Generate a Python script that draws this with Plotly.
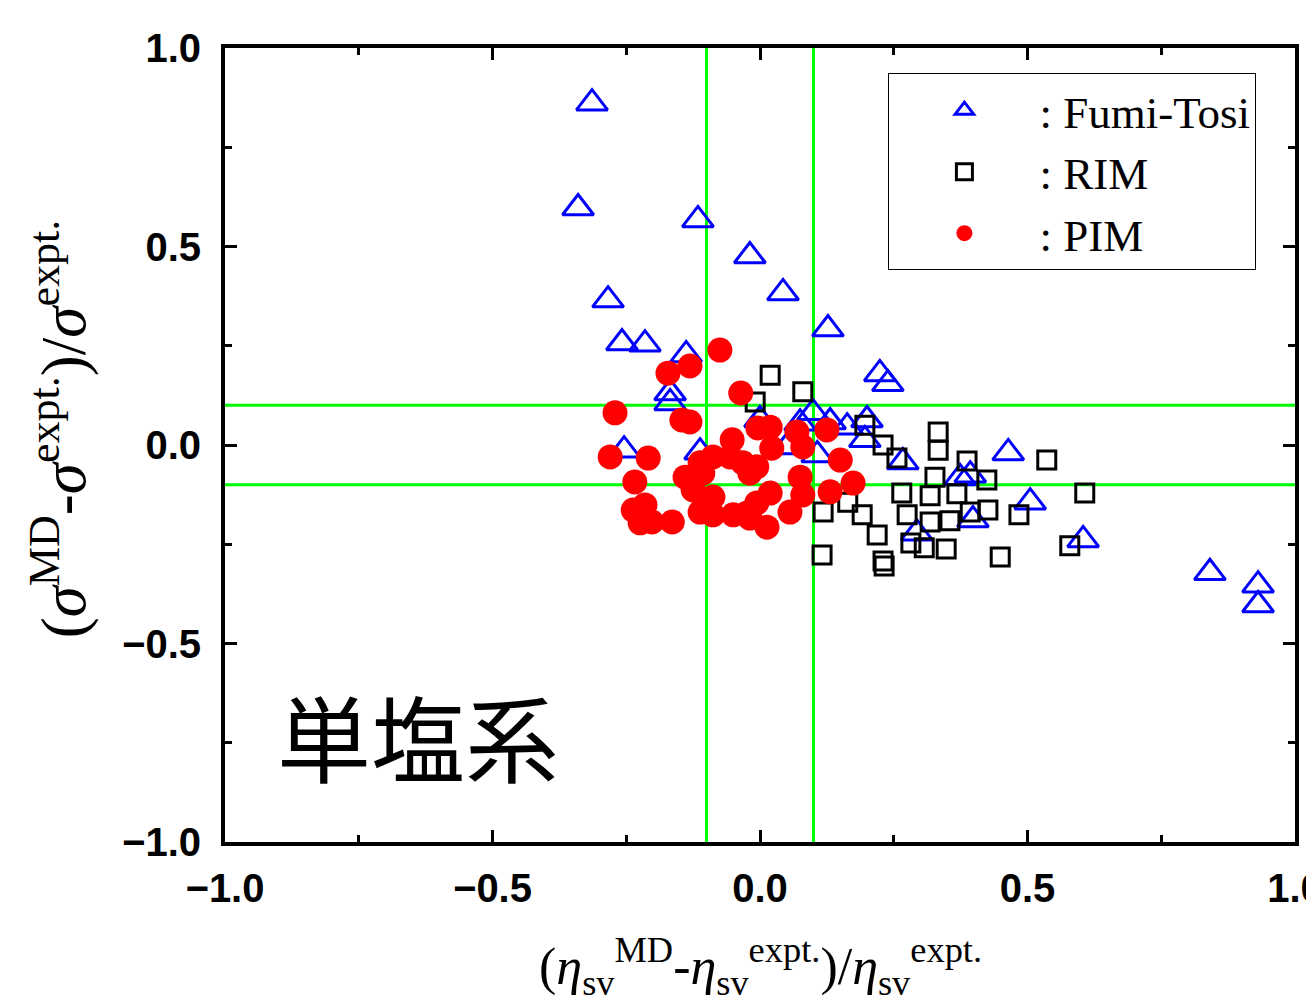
import plotly.graph_objects as go

# Fumi-Tosi (triangles)
ft_x = [-0.314, -0.340, -0.116, -0.019, 0.043, -0.284, -0.258, -0.215, -0.138, 0.127,
        0.224, 0.239, -0.168, -0.168, -0.254, -0.112, 0.000, 0.075, 0.099, 0.131,
        0.163, 0.200, 0.196, 0.050, 0.107, 0.267, 0.374, 0.393, 0.464, 0.505,
        0.398, 0.293, 0.604, 0.841, 0.931, 0.931]
ft_y = [0.861, 0.597, 0.567, 0.476, 0.383, 0.365, 0.257, 0.254, 0.227, 0.292,
        0.179, 0.154, 0.131, 0.106, -0.013, -0.018, 0.063, 0.055, 0.081, 0.058,
        0.045, 0.063, 0.013, -0.005, -0.025, -0.043, -0.083, -0.076, -0.020, -0.144,
        -0.189, -0.222, -0.239, -0.322, -0.353, -0.403]

# RIM (open squares)
rim_x = [0.019, 0.080, -0.009, 0.196, 0.230, 0.256, 0.333, 0.333, 0.387, 0.424,
         0.327, 0.265, 0.318, 0.368, 0.164, 0.118, 0.191, 0.275, 0.318, 0.355,
         0.393, 0.426, 0.484, 0.536, 0.607, 0.579, 0.219, 0.282, 0.307, 0.348,
         0.449, 0.116, 0.230, 0.232]
rim_y = [0.176, 0.134, 0.108, 0.050, 0.000, -0.033, 0.033, -0.013, -0.040, -0.088,
         -0.081, -0.121, -0.128, -0.123, -0.144, -0.169, -0.176, -0.176, -0.194, -0.191,
         -0.169, -0.164, -0.176, -0.038, -0.121, -0.254, -0.227, -0.247, -0.259, -0.262,
         -0.282, -0.277, -0.292, -0.305]

# PIM (filled circles)
pim_x = [-0.075, -0.172, -0.131, -0.036, -0.271, -0.146, -0.131, -0.280, -0.209, -0.234,
         -0.052, -0.004, 0.019, 0.022, 0.069, 0.080, 0.125, 0.150, 0.174, 0.131,
         0.075, 0.080, 0.056, 0.019, 0.013, -0.019, -0.006, -0.019, -0.006, -0.032,
         -0.056, -0.088, -0.112, -0.140, -0.125, -0.112, -0.088, -0.050, -0.024, -0.237,
         -0.215, -0.224, -0.202, -0.164, -0.107, -0.088]
pim_y = [0.239, 0.181, 0.199, 0.131, 0.081, 0.063, 0.058, -0.030, -0.033, -0.093,
         0.013, 0.043, 0.045, -0.008, 0.033, -0.005, 0.038, -0.038, -0.096, -0.118,
         -0.081, -0.126, -0.169, -0.121, -0.207, -0.184, -0.146, -0.071, -0.055, -0.045,
         -0.030, -0.030, -0.045, -0.081, -0.113, -0.169, -0.176, -0.176, -0.171, -0.164,
         -0.151, -0.196, -0.194, -0.194, -0.071, -0.131]

ref_lines = [-0.1, 0.1]
tick_vals = [-1.0, -0.5, 0.0, 0.5, 1.0]

fig = go.Figure()
fig.add_trace(go.Scatter(x=ft_x, y=ft_y, mode="markers", name=": Fumi-Tosi",
                         marker=dict(symbol="triangle-up-open", size=27, color="#0000FF",
                                     line=dict(width=3, color="#0000FF"))))
fig.add_trace(go.Scatter(x=rim_x, y=rim_y, mode="markers", name=": RIM",
                         marker=dict(symbol="square-open", size=18, color="#000000",
                                     line=dict(width=3, color="#000000"))))
fig.add_trace(go.Scatter(x=pim_x, y=pim_y, mode="markers", name=": PIM",
                         marker=dict(symbol="circle", size=25, color="#FF0000",
                                     line=dict(width=0))))

for v in ref_lines:
    fig.add_shape(type="line", x0=v, x1=v, y0=-1, y1=1, xref="x", yref="y",
                  line=dict(color="#00FF00", width=3), layer="below")
    fig.add_shape(type="line", x0=-1, x1=1, y0=v, y1=v, xref="x", yref="y",
                  line=dict(color="#00FF00", width=3), layer="below")

axis_common = dict(
    range=[-1, 1], tickvals=tick_vals, tickformat=".1f",
    showline=True, linecolor="black", linewidth=4, mirror="allticks",
    ticks="inside", ticklen=12, tickwidth=3, tickcolor="black",
    minor=dict(dtick=0.25, ticks="inside", ticklen=7, tickwidth=3, tickcolor="black"),
    showgrid=False, zeroline=False, automargin=False,
    tickfont=dict(family="Liberation Sans", size=40, color="black", weight="bold"),
    ticklabeloverflow="allow",
)
fig.update_xaxes(**axis_common, ticklabelstandoff=8)
fig.update_yaxes(**axis_common, ticklabelstandoff=12)

fig.add_annotation(text="単塩系", x=-0.64, y=-0.73, xref="x", yref="y", showarrow=False,
                   font=dict(family="Noto Sans CJK JP", size=94, color="black"))

fig.add_annotation(
    text="(<i>σ</i><sup>MD</sup>-<i>σ</i><sup>expt.</sup>)/<i>σ</i><sup>expt.</sup>",
    x=-0.155, y=0.52, xref="paper", yref="paper", xanchor="center", yanchor="middle",
    showarrow=False, textangle=-90,
    font=dict(family="Liberation Serif", size=63, color="black"))
fig.add_annotation(
    text="(<i>η</i><sub>sv</sub><sup>MD</sup>-<i>η</i><sub>sv</sub><sup>expt.</sup>)/<i>η</i><sub>sv</sub><sup>expt.</sup>",
    x=0.5, y=-0.157, xref="paper", yref="paper", xanchor="center", yanchor="middle",
    showarrow=False,
    font=dict(family="Liberation Serif", size=52, color="black"))

fig.update_layout(
    width=1306, height=998,
    margin=dict(l=217, r=19, t=40, b=164),
    paper_bgcolor="white", plot_bgcolor="white",
    showlegend=True,
    legend=dict(x=0.62, y=0.968, xanchor="left", yanchor="top",
                bgcolor="white", bordercolor="black", borderwidth=1,
                font=dict(family="Liberation Serif", size=45, color="black"),
                itemwidth=140, tracegroupgap=0),
)

fig.write_html("out.html")
